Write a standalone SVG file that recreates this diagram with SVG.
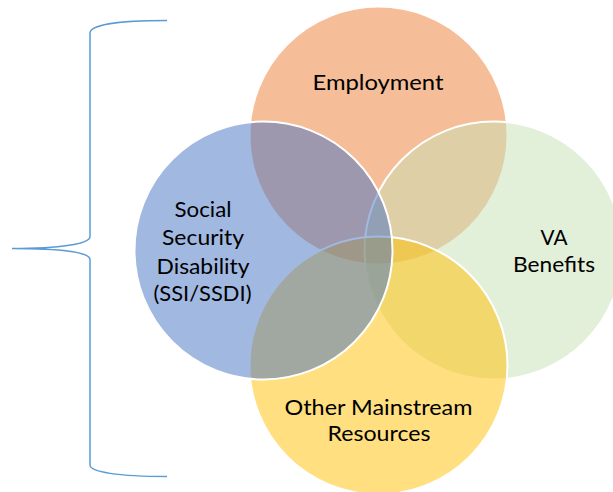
<svg xmlns="http://www.w3.org/2000/svg" width="613" height="492" viewBox="0 0 613 492">
  <style>
    .c { stroke: #FFFFFF; stroke-width: 2; fill-opacity: 0.5; }
    .t { font-family: Lato, "Open Sans", "Liberation Sans", sans-serif; font-size: 22px; fill: #000000; text-anchor: middle; }
    .brace { fill: none; stroke: #5B9BD5; stroke-width: 1.5; }
  </style>
  <rect width="613" height="492" fill="#FFFFFF"/>
  <g id="brace">
    <path class="brace" d="M167,20.5 C118,20.5 90,25 90,33 L90,236.5 C90,244 60,248.5 12,248.5 C60,248.5 90,252 90,259.5 L90,465 C90,472 118,476.5 167,476.5"/>
  </g>
  <g id="employment">
    <circle class="c" cx="378.5" cy="135.5" r="129" fill="#ED7D31"/>
  </g>
  <g id="va-benefits">
    <circle class="c" cx="493.5" cy="250.5" r="129" fill="#C5E0B4"/>
  </g>
  <g id="other-mainstream">
    <circle class="c" cx="378.5" cy="365.5" r="129" fill="#FFC000"/>
  </g>
  <g id="social-security">
    <circle class="c" cx="263.5" cy="250.5" r="129" fill="#4472C4"/>
  </g>
  <g id="labels">
    <text class="t" x="378" y="89.5" textLength="131" lengthAdjust="spacingAndGlyphs">Employment</text>
    <text class="t" x="203" y="217" textLength="57" lengthAdjust="spacingAndGlyphs">Social</text>
    <text class="t" x="203" y="245" textLength="82" lengthAdjust="spacingAndGlyphs">Security</text>
    <text class="t" x="203" y="273.5" textLength="93" lengthAdjust="spacingAndGlyphs">Disability</text>
    <text class="t" x="202.5" y="300.5" textLength="98" lengthAdjust="spacingAndGlyphs">(SSI/SSDI)</text>
    <text class="t" x="554" y="245" textLength="27" lengthAdjust="spacingAndGlyphs">VA</text>
    <text class="t" x="554" y="272" textLength="82" lengthAdjust="spacingAndGlyphs">Benefits</text>
    <text class="t" x="378.5" y="415" textLength="188" lengthAdjust="spacingAndGlyphs">Other Mainstream</text>
    <text class="t" x="379" y="441" textLength="103" lengthAdjust="spacingAndGlyphs">Resources</text>
  </g>
  <g id="connectors"></g>
</svg>
